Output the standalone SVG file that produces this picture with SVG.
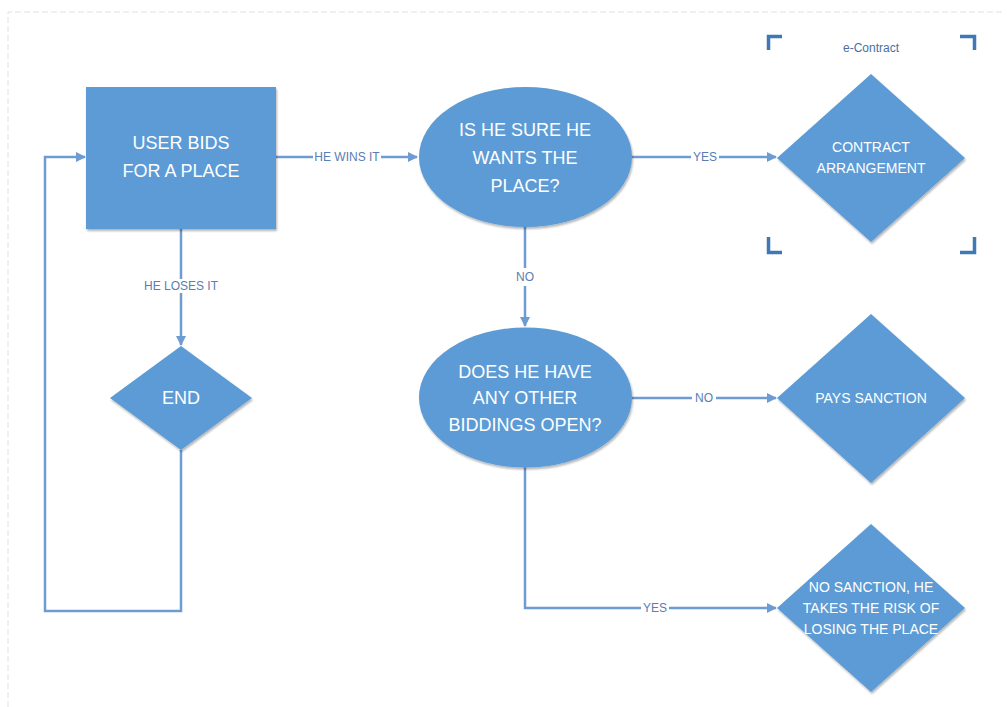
<svg xmlns="http://www.w3.org/2000/svg" width="1007" height="707" viewBox="0 0 1007 707">
<defs>
<style>
.shape{fill:#5b9bd5;}
.nt{font-family:"Liberation Sans",Arial,sans-serif;fill:#ffffff;text-anchor:middle;dominant-baseline:central;}
.big{font-size:18px;}
.small{font-size:14px;}
.conn{fill:none;stroke:#6d9bd2;stroke-width:2.5;}
.lbl{font-family:"Liberation Sans",Arial,sans-serif;font-size:12px;fill:#5a7db2;text-anchor:middle;dominant-baseline:central;}
.lblbg{fill:#ffffff;}
.brk{fill:none;stroke:#3f78b5;stroke-width:3.5;}
.frame{stroke:#e0e0e0;stroke-width:1;stroke-dasharray:6 3;fill:none;}
</style>
<marker id="arr" viewBox="0 0 10 10" refX="9" refY="5" markerWidth="4" markerHeight="4" orient="auto" markerUnits="strokeWidth">
<path d="M0,0 L10,5 L0,10 z" fill="#6d9bd2"/>
</marker>
<filter id="sh" x="-20%" y="-20%" width="140%" height="140%">
<feGaussianBlur in="SourceAlpha" stdDeviation="1.2"/>
<feOffset dx="1" dy="1.5" result="b"/>
<feComponentTransfer><feFuncA type="linear" slope="0.3"/></feComponentTransfer>
<feMerge><feMergeNode/><feMergeNode in="SourceGraphic"/></feMerge>
</filter>
</defs>
<rect width="1007" height="707" fill="#ffffff"/>
<path class="frame" d="M8,707 L8,12 L1005,12"/>

<g id="connectors">
<line class="conn" x1="276" y1="157" x2="417" y2="157" marker-end="url(#arr)"/>
<line class="conn" x1="632" y1="157" x2="776" y2="157" marker-end="url(#arr)"/>
<line class="conn" x1="181" y1="229" x2="181" y2="345" marker-end="url(#arr)"/>
<line class="conn" x1="525" y1="227" x2="525" y2="326" marker-end="url(#arr)"/>
<line class="conn" x1="632" y1="398" x2="776" y2="398" marker-end="url(#arr)"/>
<polyline class="conn" points="525,467 525,608 776,608" marker-end="url(#arr)"/>
<polyline class="conn" points="181,450 181,611 45,611 45,157 85,157" marker-end="url(#arr)"/>
<rect class="lblbg" x="313" y="150" width="68" height="14"/>
<text class="lbl" x="347" y="157">HE WINS IT</text>
<rect class="lblbg" x="691" y="150" width="28" height="14"/>
<text class="lbl" x="705" y="157">YES</text>
<rect class="lblbg" x="142" y="279" width="78" height="14"/>
<text class="lbl" x="181" y="286">HE LOSES IT</text>
<rect class="lblbg" x="512" y="268" width="26" height="18"/>
<text class="lbl" x="525" y="277">NO</text>
<rect class="lblbg" x="692" y="391" width="24" height="14"/>
<text class="lbl" x="704" y="398">NO</text>
<rect class="lblbg" x="641" y="601" width="28" height="14"/>
<text class="lbl" x="655" y="608">YES</text>
</g>

<g id="user-bids">
<rect class="shape" x="86" y="87" width="190" height="142" filter="url(#sh)"/>
<text class="nt big" x="181" y="143">USER BIDS</text>
<text class="nt big" x="181" y="171">FOR A PLACE</text>
</g>

<g id="is-he-sure">
<ellipse class="shape" cx="525.5" cy="157" rx="106.5" ry="70" filter="url(#sh)"/>
<text class="nt big" x="525" y="130">IS HE SURE HE</text>
<text class="nt big" x="525" y="158">WANTS THE</text>
<text class="nt big" x="525" y="186">PLACE?</text>
</g>

<g id="e-contract">
<path class="brk" d="M782,36.5 L768.5,36.5 L768.5,50"/>
<path class="brk" d="M960,36.5 L974.5,36.5 L974.5,50"/>
<path class="brk" d="M768.5,237 L768.5,252.5 L782,252.5"/>
<path class="brk" d="M974.5,237 L974.5,252.5 L960,252.5"/>
<text x="871" y="48" font-family="'Liberation Sans',Arial,sans-serif" font-size="12" fill="#4a6fa5" text-anchor="middle" dominant-baseline="central">e-Contract</text>
</g>

<g id="contract-arrangement">
<polygon class="shape" points="871,74 965,158 871,242 777,158" filter="url(#sh)"/>
<text class="nt small" x="871" y="147">CONTRACT</text>
<text class="nt small" x="871" y="168">ARRANGEMENT</text>
</g>

<g id="end">
<polygon class="shape" points="181,346 252,398 181,450 110,398" filter="url(#sh)"/>
<text class="nt big" x="181" y="398">END</text>
</g>

<g id="other-biddings">
<ellipse class="shape" cx="525.5" cy="397.5" rx="106.5" ry="70" filter="url(#sh)"/>
<text class="nt big" x="525" y="372">DOES HE HAVE</text>
<text class="nt big" x="525" y="398">ANY OTHER</text>
<text class="nt big" x="525" y="425">BIDDINGS OPEN?</text>
</g>

<g id="pays-sanction">
<polygon class="shape" points="871,314 965,398 871,483 777,398" filter="url(#sh)"/>
<text class="nt small" x="871" y="398">PAYS SANCTION</text>
</g>

<g id="no-sanction">
<polygon class="shape" points="871,524 965,608 871,692 777,608" filter="url(#sh)"/>
<text class="nt small" x="871" y="587">NO SANCTION, HE</text>
<text class="nt small" x="871" y="608">TAKES THE RISK OF</text>
<text class="nt small" x="871" y="629">LOSING THE PLACE</text>
</g>
</svg>
